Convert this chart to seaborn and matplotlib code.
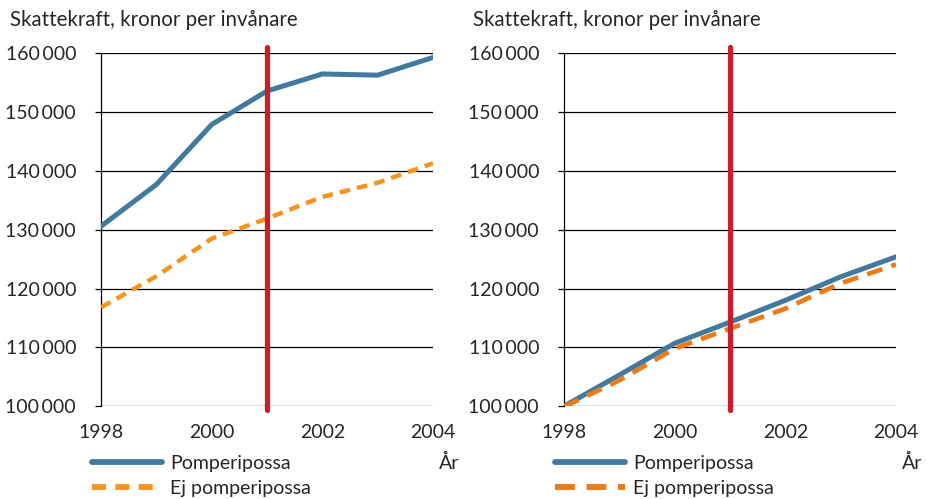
import matplotlib
matplotlib.use("Agg")
import matplotlib.pyplot as plt
import pandas as pd
import seaborn as sns
from matplotlib.lines import Line2D

# Data
years = [1998, 1999, 2000, 2001, 2002, 2003, 2004]
left_pomp = [130600, 137700, 147900, 153600, 156500, 156300, 159300]
left_ej = [116800, 122100, 128500, 131900, 135600, 138000, 141300]
right_pomp = [100000, 105300, 110700, 114300, 118000, 122000, 125400]
right_ej = [99900, 104400, 109800, 113200, 116600, 120900, 124100]
yticks = [100000, 110000, 120000, 130000, 140000, 150000, 160000]
xticks = [1998, 2000, 2002, 2004]
reform_year = 2001

blue = "#41799f"
orange_left = "#f7941d"
orange_right = "#ec7a17"
red = "#c8202a"

sns.set_style("white")
plt.rcParams['font.family'] = ['Lato', 'DejaVu Sans']

fig = plt.figure(figsize=(9.27, 4.99), dpi=100)


def draw_panel(ax, pomp, ej, ej_color, dash, ej_lw):
    df = pd.DataFrame({'year': years, 'Pomperipossa': pomp, 'Ej pomperipossa': ej})
    for y in yticks:
        ax.axhline(y, color='black', lw=0.9, zorder=1)
    sns.lineplot(x='year', y='Pomperipossa', data=df, ax=ax, color=blue,
                 lw=3.6, zorder=3)
    sns.lineplot(x='year', y='Ej pomperipossa', data=df, ax=ax, color=ej_color,
                 lw=ej_lw, zorder=4, dashes=False, linestyle=(0, dash))
    ax.axvline(reform_year, ymin=-0.012, ymax=1.017, color=red, lw=3.8,
               clip_on=False, zorder=5)
    ax.set_xlim(1998, 2004)
    ax.set_ylim(100000, 160000)
    ax.set_yticks(yticks)
    ax.set_yticklabels([f"{v // 1000}\u2009000" for v in yticks])
    ax.set_xticks(xticks)
    ax.set_xticklabels([str(x) for x in xticks])
    ax.tick_params(axis='y', length=4, width=0.9, color='black', pad=14,
                   labelsize=14, left=True)
    ax.tick_params(axis='x', length=0, pad=13, labelsize=14)
    ax.set_xlabel('')
    ax.set_ylabel('')
    for s in ['top', 'right', 'bottom']:
        ax.spines[s].set_visible(False)
    ax.spines['left'].set_color('black')
    ax.spines['left'].set_linewidth(0.9)
    ax.text(-0.274, 1.095, 'Skattekraft, kronor per invånare', transform=ax.transAxes,
            fontsize=14.8, ha='left', va='center')
    ax.text(1.05, -0.16, 'År', transform=ax.transAxes, fontsize=14,
            ha='center', va='center')
    handles = [Line2D([], [], color=blue, lw=4.2),
               Line2D([], [], color=ej_color, lw=4.2, linestyle=(0, dash))]
    ax.legend(handles, ['Pomperipossa', 'Ej pomperipossa'], loc='upper left',
              bbox_to_anchor=(-0.027, -0.137), frameon=False, fontsize=14,
              handlelength=3.6, handletextpad=0.42, labelspacing=0.45,
              borderaxespad=0, borderpad=0)


ax1 = fig.add_axes([0.109, 0.186, 0.358, 0.707])
draw_panel(ax1, left_pomp, left_ej, orange_left, (2.4, 1.6), 3.2)
ax2 = fig.add_axes([0.6085, 0.186, 0.358, 0.707])
draw_panel(ax2, right_pomp, right_ej, orange_right, (3.4, 2.0), 3.4)

fig.savefig('out.png', dpi=100)
